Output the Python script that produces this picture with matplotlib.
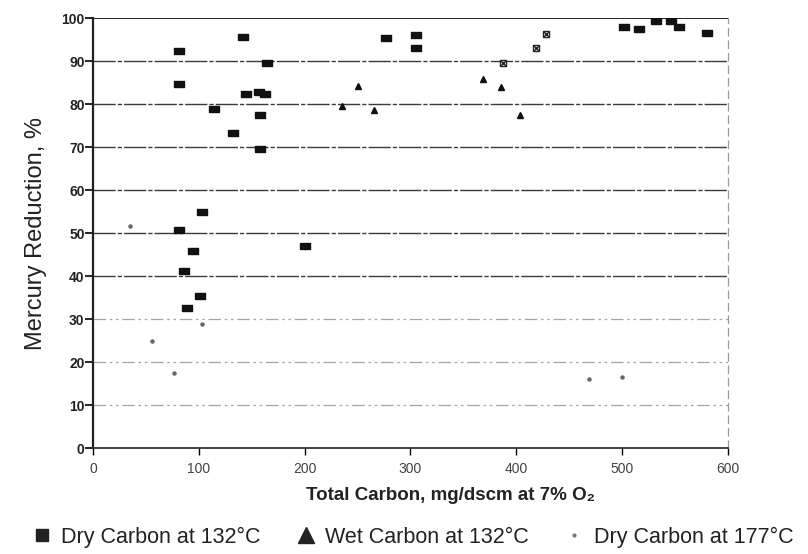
import matplotlib
matplotlib.use("Agg")
import matplotlib.pyplot as plt
from matplotlib.lines import Line2D

plt.rcParams["font.family"] = "Liberation Sans"

# Dry carbon injected at 132 C
dry132_carbon = [81, 81, 141.5, 144.7, 157, 163, 164, 114.5, 157.5, 132.7, 157.5,
                 102.8, 80.9, 200.7, 94.3, 86.2, 101, 89,
                 277, 305.7, 305.4, 501.6, 515.7, 532, 546.6, 553.5, 580]
dry132_removal = [92.5, 84.8, 95.6, 82.4, 82.9, 82.5, 89.7, 78.8, 77.5, 73.3, 69.7,
                  54.9, 50.8, 47.1, 45.9, 41.3, 35.5, 32.5,
                  95.4, 96.0, 93.0, 98.0, 97.4, 99.4, 99.4, 98.0, 96.5]

# crossed-square points
dry132x_carbon = [387.7, 418.3, 427.7]
dry132x_removal = [89.7, 93.2, 96.3]

# Wet carbon at 132 C
wet132_carbon = [235.3, 250, 265.8, 368.9, 385.8, 403.5]
wet132_removal = [79.6, 84.3, 78.7, 85.9, 83.9, 77.5]

# Dry carbon at 177 C
dry177_carbon = [35, 56, 77, 103, 469, 500]
dry177_removal = [51.7, 24.9, 17.4, 28.9, 16.0, 16.6]

x_ticks = [0, 100, 200, 300, 400, 500, 600]
y_ticks = [0, 10, 20, 30, 40, 50, 60, 70, 80, 90, 100]

fig = plt.figure(figsize=(8.08, 5.54), dpi=100)
ax = fig.add_axes([0.115, 0.191, 0.786, 0.776])

# horizontal grid, darker in the upper part of the chart
for v in y_ticks[1:]:
    if v == 100:
        ax.axhline(v, color="#222222", lw=1.4, zorder=1)
    elif v >= 40:
        ax.axhline(v, color="#3a3a3a", lw=1.0, ls=(0, (16, 1.5, 3, 1.5)), zorder=1)
    else:
        ax.axhline(v, color="#a5a5a5", lw=0.9, ls=(0, (10, 3, 2, 3, 2, 3)), zorder=1)

rect = [(-1, -0.65), (1, -0.65), (1, 0.65), (-1, 0.65), (-1, -0.65)]
ax.plot(dry132_carbon, dry132_removal, ls="none", marker=rect, ms=7,
        color="#111111", zorder=3)
ax.plot(dry132x_carbon, dry132x_removal, ls="none", marker="s", ms=5,
        mfc="white", mec="#222222", mew=1.0, zorder=3)
ax.plot(dry132x_carbon, dry132x_removal, ls="none", marker="x", ms=4,
        color="#222222", mew=1.0, zorder=4)
ax.plot(wet132_carbon, wet132_removal, ls="none", marker="^", ms=5,
        color="#111111", zorder=3)
ax.plot(dry177_carbon, dry177_removal, ls="none", marker="o", ms=2.2,
        color="#666666", zorder=3)

ax.set_xlim(0, 600)
ax.set_ylim(0, 100)
ax.set_xticks(x_ticks)
ax.set_yticks(y_ticks)
ax.set_xticklabels([str(t) for t in x_ticks], fontsize=10, color="#444444")
ax.set_yticklabels([str(t) for t in y_ticks], fontsize=10, fontweight="bold",
                   color="#222222")
ax.tick_params(axis="y", direction="out", length=6, width=1.2, pad=0)
ax.tick_params(axis="x", direction="out", length=5, width=1.0, pad=5)

ax.spines["left"].set_linewidth(1.6)
ax.spines["left"].set_color("#222222")
ax.spines["bottom"].set_linewidth(1.3)
ax.spines["bottom"].set_color("#333333")
ax.spines["top"].set_visible(False)
ax.spines["right"].set_color("#9a9a9a")
ax.spines["right"].set_linewidth(0.9)
ax.spines["right"].set_linestyle((0, (6, 4)))

ax.set_ylabel("Mercury Reduction, %", fontsize=17, color="#222222", labelpad=10)
fig.text(0.558, 0.105, "Total Carbon, mg/dscm at 7% O\u2082",
         ha="center", va="center", fontsize=13.5, fontweight="bold",
         color="#222222")

handles = [
    Line2D([], [], ls="none", marker="s", ms=9, color="#222222"),
    Line2D([], [], ls="none", marker="^", ms=11, color="#222222"),
    Line2D([], [], ls="none", marker="o", ms=2, color="#777777"),
]
labels = ["Dry Carbon at 132\u00b0C", "Wet Carbon at 132\u00b0C", "Dry Carbon at 177\u00b0C"]
fig.legend(handles, labels, loc="center", bbox_to_anchor=(0.51, 0.03), ncol=3,
           frameon=False, fontsize=15.5, handletextpad=0.4, columnspacing=1.6,
           handlelength=1.0, labelcolor="#222222")

fig.savefig("out.png", dpi=100)
